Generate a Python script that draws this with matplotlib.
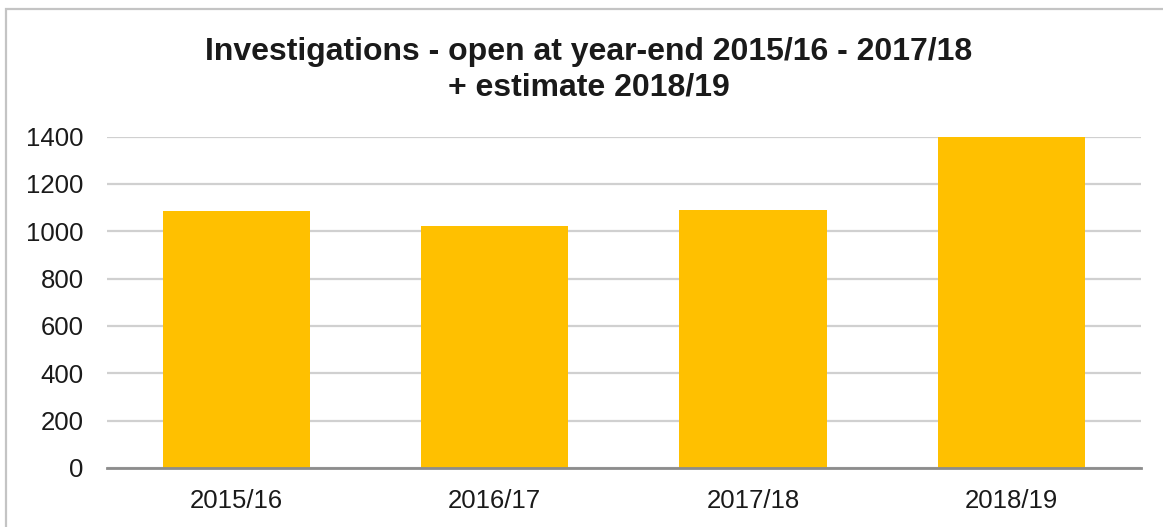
import matplotlib.pyplot as plt
from matplotlib.patches import Rectangle

plt.rcParams['font.family'] = ['Liberation Sans', 'DejaVu Sans']

# data
years = ['2015/16', '2016/17', '2017/18', '2018/19']
open_cases = [1085, 1021, 1090, 1400]
y_ticks = [0, 200, 400, 600, 800, 1000, 1200, 1400]
title = 'Investigations - open at year-end 2015/16 - 2017/18\n+ estimate 2018/19'


def draw_chart():
    fig = plt.figure(figsize=(11.63, 5.27), dpi=100)
    ax = fig.add_axes([0.0923, 0.112, 0.8884, 0.6287])

    ax.bar(range(len(years)), open_cases, width=0.57, color='#FFC000', zorder=3)

    ax.set_xlim(-0.5, len(years) - 0.5)
    ax.set_ylim(0, 1400)
    ax.set_yticks(y_ticks)
    ax.set_xticks(range(len(years)))
    ax.set_xticklabels(years)

    # gridlines like Excel
    ax.grid(axis='y', color='#d0d0d0', linewidth=1.6, zorder=0)
    ax.set_axisbelow(True)
    for side in ['top', 'right', 'left']:
        ax.spines[side].set_visible(False)
    ax.spines['bottom'].set_color('#8c8c8c')
    ax.spines['bottom'].set_linewidth(2)
    ax.spines['bottom'].set_zorder(4)

    ax.tick_params(axis='y', length=0, pad=17, labelsize=18.5, labelcolor='#1a1a1a')
    ax.tick_params(axis='x', length=0, pad=15, labelsize=18.5, labelcolor='#1a1a1a')

    fig.text(0.506, 0.868, title, ha='center', va='center', fontsize=23,
             fontweight='bold', color='#1a1a1a', linespacing=1.22)

    # chart frame (only top/left visible in the crop)
    fig.patches.append(Rectangle((6 / 1163, -0.5), 2, 0.5 + 1 - 9 / 527,
                                 transform=fig.transFigure, fill=False,
                                 edgecolor='#c4c4c4', linewidth=1.6))

    fig.savefig('out.png', dpi=100)


if __name__ == '__main__':
    draw_chart()
